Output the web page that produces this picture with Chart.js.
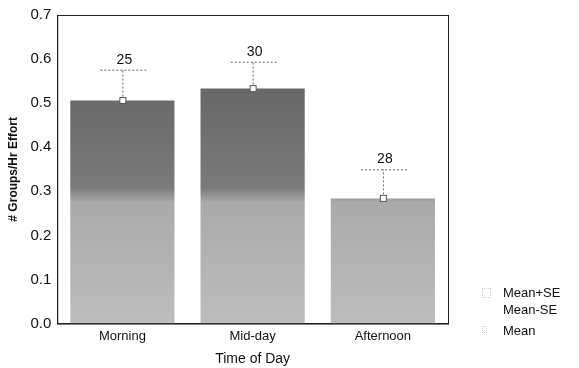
<!DOCTYPE html>
<html>
<head>
<meta charset="utf-8">
<script src="https://cdn.jsdelivr.net/npm/chart.js@4"></script>
<style>
  body { margin: 0; background: #fff; }
  #wrap { position: relative; width: 579px; height: 368px; }
  #legend { position: absolute; left: 478px; top: 284px; font-family: "Liberation Sans", Arial, sans-serif; font-size: 13px; color: #111; line-height: 17px; }
  #legend div { position: relative; padding-left: 25px; }
  #legend span { position: absolute; left: 4px; top: 4px; width: 7px; height: 8px; border: 1px dotted #ccc; }
</style>
</head>
<body>
<div id="wrap">
  <canvas id="chart" width="579" height="368"></canvas>
  <div id="legend">
    <div><span></span>Mean+SE</div>
    <div>Mean-SE</div>
    <div style="margin-top:4px"><span style="width:3px;height:5px"></span>Mean</div>
  </div>
</div>
<script>
// Data
const categories = ['Morning', 'Mid-day', 'Afternoon'];
const means = [0.506, 0.533, 0.284];
const upperSE = [0.576, 0.594, 0.350];
const counts = ['25', '30', '28'];

const font = "'Liberation Sans', Arial, sans-serif";

// Dark at top, lighter below ~0.28, like the shaded bars
function barFill(context) {
    const chart = context.chart;
    const area = chart.chartArea;
    if (!area) return '#999';
    const y = chart.scales.y;
    const g = chart.ctx.createLinearGradient(0, y.getPixelForValue(0.55), 0, y.getPixelForValue(0));
    g.addColorStop(0, '#666666');
    g.addColorStop(0.44, '#7a7a7a');
    g.addColorStop(0.5, '#aaaaaa');
    g.addColorStop(1, '#bdbdbd');
    return g;
}

// Frame, error bars, mean markers and counts
const extras = {
    id: 'extras',
    afterDatasetsDraw(chart) {
        const ctx = chart.ctx;
        const x = chart.scales.x;
        const y = chart.scales.y;
        ctx.save();
        means.forEach((m, i) => {
            const cx = x.getPixelForValue(i);
            const yMean = y.getPixelForValue(m);
            const yUp = y.getPixelForValue(upperSE[i]);
            ctx.strokeStyle = '#666';
            ctx.lineWidth = 1;
            ctx.setLineDash([2, 2]);
            ctx.beginPath();
            ctx.moveTo(cx + 0.5, yMean);
            ctx.lineTo(cx + 0.5, yUp);
            ctx.moveTo(cx - 22, yUp + 0.5);
            ctx.lineTo(cx + 26, yUp + 0.5);
            ctx.stroke();
            ctx.setLineDash([]);
            ctx.fillStyle = '#fff';
            ctx.strokeStyle = '#555';
            ctx.fillRect(cx - 2.5, yMean - 3, 6, 6);
            ctx.strokeRect(cx - 2.5, yMean - 3, 6, 6);
            ctx.fillStyle = '#111';
            ctx.font = '14px ' + font;
            ctx.textAlign = 'center';
            ctx.textBaseline = 'bottom';
            ctx.fillText(counts[i], cx + 2, yUp - 3);
        });
        const a = chart.chartArea;
        ctx.strokeStyle = '#222';
        ctx.lineWidth = 1;
        ctx.strokeRect(a.left + 0.5, a.top + 0.5, a.right - a.left, a.bottom - a.top);
        ctx.restore();
    }
};

new Chart(document.getElementById('chart'), {
    type: 'bar',
    data: {
        labels: categories,
        datasets: [{
            data: means,
            backgroundColor: barFill,
            borderWidth: 0,
            barPercentage: 0.8,
            categoryPercentage: 1.0
        }]
    },
    options: {
        responsive: false,
        animation: false,
        layout: { padding: { top: 9, right: 131, left: 2, bottom: 0 } },
        plugins: { legend: { display: false }, tooltip: { enabled: false } },
        scales: {
            x: {
                grid: { display: false, drawTicks: false },
                border: { color: '#222' },
                ticks: { color: '#111', font: { family: font, size: 13 }, padding: 5 },
                title: { display: true, text: 'Time of Day', color: '#111', font: { family: font, size: 14 }, padding: { top: 2, bottom: 0 } }
            },
            y: {
                min: 0,
                max: 0.7,
                grid: { display: false, drawTicks: false },
                border: { color: '#222' },
                ticks: {
                    stepSize: 0.1,
                    color: '#111',
                    font: { family: font, size: 15 },
                    padding: 6,
                    callback: v => v.toFixed(1)
                },
                title: { display: true, text: '# Groups/Hr Effort', color: '#111', font: { family: font, size: 12, weight: 'bold' }, padding: { bottom: 4 } }
            }
        }
    },
    plugins: [extras]
});
</script>
</body>
</html>
